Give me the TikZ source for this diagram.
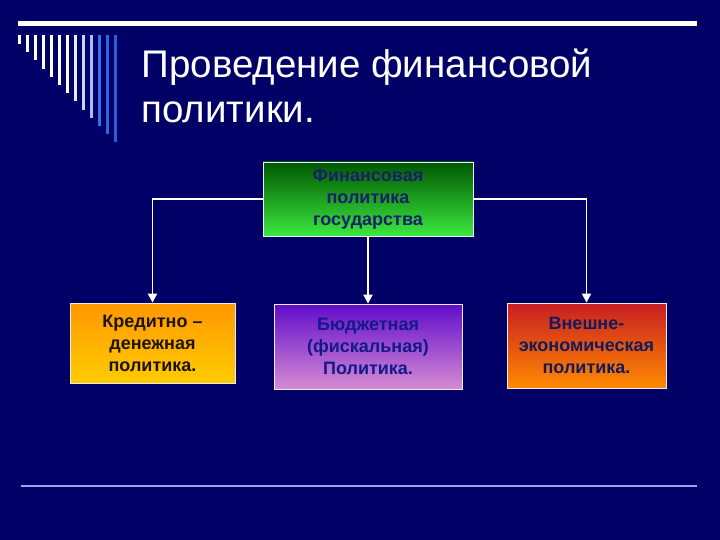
\documentclass[tikz,border=0pt]{standalone}
\usepackage{fontspec}
\setmainfont{Liberation Sans}
\usetikzlibrary{positioning,arrows.meta}
\definecolor{slidebg}{HTML}{000066}
\definecolor{boxtext}{HTML}{18206A}
\definecolor{rulelilac}{HTML}{A0A0F0}
\definecolor{stripeA}{HTML}{E4EEFF}
\definecolor{stripeB}{HTML}{C4D6FF}
\definecolor{stripeC}{HTML}{A4BEFF}
\definecolor{stripeD}{HTML}{3A70EA}
\definecolor{stripeE}{HTML}{3366DD}
\definecolor{stripeF}{HTML}{2A5CD8}
\definecolor{govtop}{HTML}{005800}
\definecolor{govbottom}{HTML}{3CE840}
\definecolor{credtop}{HTML}{FF9800}
\definecolor{credbottom}{HTML}{FFCC00}
\definecolor{budtop}{HTML}{600CCC}
\definecolor{budbottom}{HTML}{D68CD2}
\definecolor{fortop}{HTML}{C81E22}
\definecolor{forbottom}{HTML}{FF8A00}
\tikzset{%
  policy box/.style={
    draw=white!85!gray,
    line width=0.8pt,
    align=center,
    text=boxtext,
    inner sep=0pt,
    font=\bfseries\fontsize{18}{22}\selectfont
  },
  link/.style={
    draw=white,
    line width=1.8pt
  },
}

\begin{document}
\begin{tikzpicture}[x=1pt, y=-1pt, >={Triangle[length=9pt,width=9pt]}]

    \useasboundingbox[fill=slidebg] (0,0) rectangle (720,540);

    % header rule and stripes
    \fill[white] (18,21.5) rectangle (697,26.5);
    \foreach \c [count=\i from 0] in {white,white,white,white,white,white,white,stripeA,stripeB,stripeC,stripeD,stripeE,stripeF}
      \fill[\c] (18+\i*8,35) rectangle ++(3,9+\i*8.2);

    \node [anchor=base west, align=left, text=white,
           font=\fontsize{38.5}{45}\selectfont] (title) at (138,123)
      {Проведение финансовой\\политики.};

    % boxes
    \node [policy box, minimum width=210pt, minimum height=74pt,
           top color=govtop, bottom color=govbottom] (gov) at (368,199)
      {Финансовая\\политика\\государства};
    \node [policy box, minimum width=165pt, minimum height=80pt, text=black!85!brown,
           top color=credtop, bottom color=credbottom] (credit) at (152.5,343)
      {Кредитно –\\денежная\\политика.};
    \node [policy box, minimum width=188pt, minimum height=85pt, text=boxtext!80!blue,
           top color=budtop, bottom color=budbottom] (budget) at (368,346.5)
      {Бюджетная\\(фискальная)\\Политика.};
    \node [policy box, minimum width=159pt, minimum height=85pt, text=boxtext!85!black,
           top color=fortop, bottom color=forbottom] (foreign) at (586.5,345.5)
      {Внешне-\\экономическая\\политика.};

    % connectors
    \draw [link, ->] (gov.west) -| (credit.north);
    \draw [link, ->] (gov.south) -- (budget.north);
    \draw [link, ->] (gov.east) -| (foreign.north);

    % footer rule
    \draw [rulelilac, line width=2pt] (21,486) -- (697,486);

\end{tikzpicture}
\end{document}
